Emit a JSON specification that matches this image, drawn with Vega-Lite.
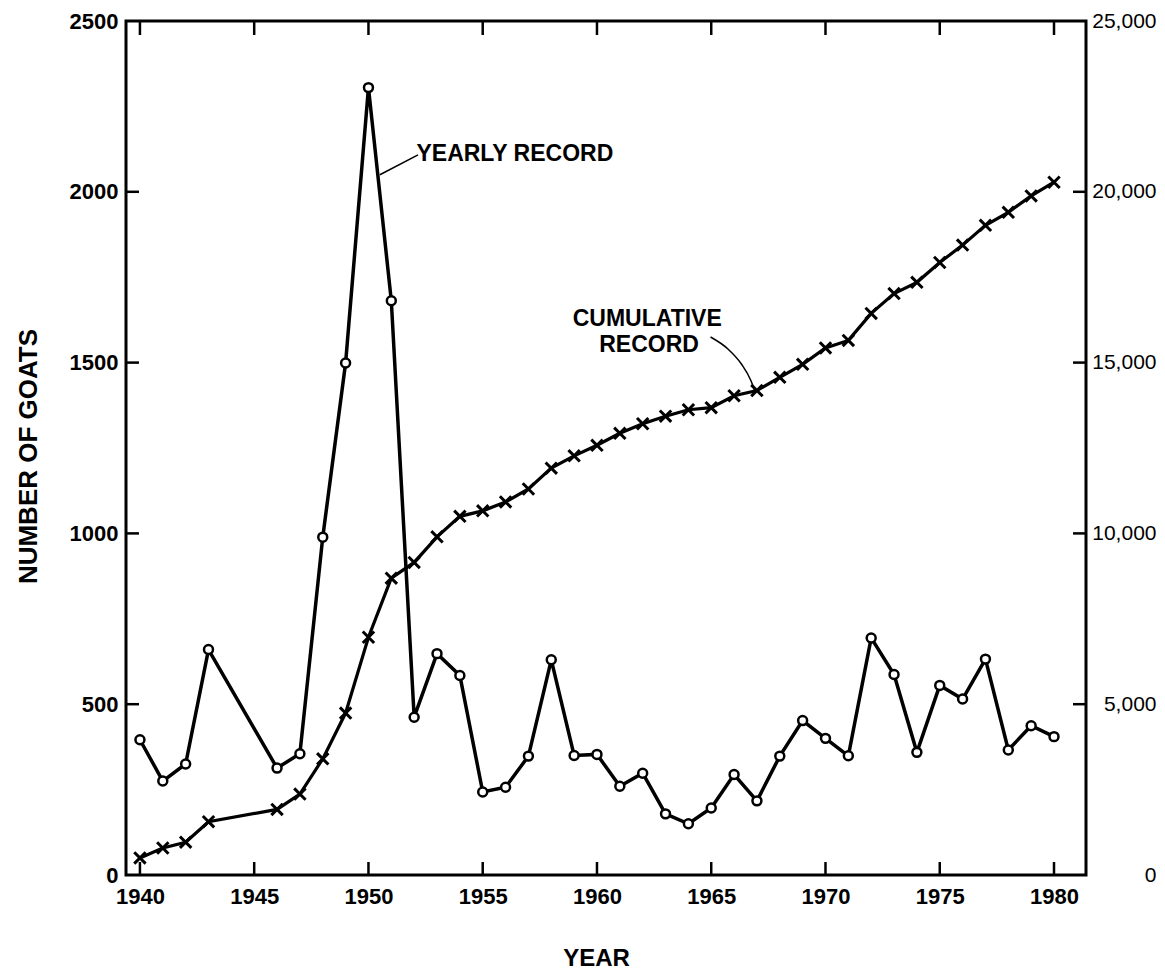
{
  "$schema": "https://vega.github.io/schema/vega-lite/v6.json",
  "autosize": "none",
  "width": 960,
  "height": 854,
  "padding": {"left": 126, "top": 21, "right": 79, "bottom": 100},
  "background": "white",
  "config": {
    "view": {"stroke": "black", "strokeWidth": 3},
    "axis": {"labelFont": "Liberation Sans", "titleFont": "Liberation Sans", "labelColor": "black", "titleColor": "black", "ticks": false, "domain": false, "grid": false}
  },
  "datasets": {
    "yearly": [
      {"year": 1940, "count": 396}, {"year": 1941, "count": 275}, {"year": 1942, "count": 325}, {"year": 1943, "count": 660},
      {"year": 1946, "count": 313}, {"year": 1947, "count": 355}, {"year": 1948, "count": 989}, {"year": 1949, "count": 1499},
      {"year": 1950, "count": 2305}, {"year": 1951, "count": 1681}, {"year": 1952, "count": 462}, {"year": 1953, "count": 648},
      {"year": 1954, "count": 584}, {"year": 1955, "count": 243}, {"year": 1956, "count": 257}, {"year": 1957, "count": 348},
      {"year": 1958, "count": 630}, {"year": 1959, "count": 350}, {"year": 1960, "count": 353}, {"year": 1961, "count": 260},
      {"year": 1962, "count": 298}, {"year": 1963, "count": 179}, {"year": 1964, "count": 150}, {"year": 1965, "count": 196},
      {"year": 1966, "count": 294}, {"year": 1967, "count": 217}, {"year": 1968, "count": 348}, {"year": 1969, "count": 452},
      {"year": 1970, "count": 400}, {"year": 1971, "count": 349}, {"year": 1972, "count": 694}, {"year": 1973, "count": 587},
      {"year": 1974, "count": 359}, {"year": 1975, "count": 555}, {"year": 1976, "count": 515}, {"year": 1977, "count": 632},
      {"year": 1978, "count": 366}, {"year": 1979, "count": 437}, {"year": 1980, "count": 405}
    ],
    "cumulative": [
      {"year": 1940, "cum": 500}, {"year": 1941, "cum": 790}, {"year": 1942, "cum": 960}, {"year": 1943, "cum": 1560},
      {"year": 1946, "cum": 1920}, {"year": 1947, "cum": 2370}, {"year": 1948, "cum": 3400}, {"year": 1949, "cum": 4740},
      {"year": 1950, "cum": 6960}, {"year": 1951, "cum": 8690}, {"year": 1952, "cum": 9150}, {"year": 1953, "cum": 9900},
      {"year": 1954, "cum": 10500}, {"year": 1955, "cum": 10660}, {"year": 1956, "cum": 10920}, {"year": 1957, "cum": 11300},
      {"year": 1958, "cum": 11910}, {"year": 1959, "cum": 12270}, {"year": 1960, "cum": 12580}, {"year": 1961, "cum": 12930},
      {"year": 1962, "cum": 13210}, {"year": 1963, "cum": 13430}, {"year": 1964, "cum": 13620}, {"year": 1965, "cum": 13680},
      {"year": 1966, "cum": 14030}, {"year": 1967, "cum": 14180}, {"year": 1968, "cum": 14570}, {"year": 1969, "cum": 14950},
      {"year": 1970, "cum": 15430}, {"year": 1971, "cum": 15650}, {"year": 1972, "cum": 16440}, {"year": 1973, "cum": 17020},
      {"year": 1974, "cum": 17350}, {"year": 1975, "cum": 17930}, {"year": 1976, "cum": 18440}, {"year": 1977, "cum": 19020},
      {"year": 1978, "cum": 19400}, {"year": 1979, "cum": 19880}, {"year": 1980, "cum": 20280}
    ],
    "frameMarks": [
      {"year": 1940, "year2": 1940, "count": 0, "count2": 38}, {"year": 1945, "year2": 1945, "count": 0, "count2": 38},
      {"year": 1950, "year2": 1950, "count": 0, "count2": 38}, {"year": 1955, "year2": 1955, "count": 0, "count2": 38},
      {"year": 1960, "year2": 1960, "count": 0, "count2": 38}, {"year": 1965, "year2": 1965, "count": 0, "count2": 38},
      {"year": 1970, "year2": 1970, "count": 0, "count2": 38}, {"year": 1975, "year2": 1975, "count": 0, "count2": 38},
      {"year": 1980, "year2": 1980, "count": 0, "count2": 38},
      {"year": 1940, "year2": 1940, "count": 2500, "count2": 2459}, {"year": 1945, "year2": 1945, "count": 2500, "count2": 2459},
      {"year": 1950, "year2": 1950, "count": 2500, "count2": 2459}, {"year": 1955, "year2": 1955, "count": 2500, "count2": 2459},
      {"year": 1960, "year2": 1960, "count": 2500, "count2": 2459}, {"year": 1965, "year2": 1965, "count": 2500, "count2": 2459},
      {"year": 1970, "year2": 1970, "count": 2500, "count2": 2459}, {"year": 1975, "year2": 1975, "count": 2500, "count2": 2459},
      {"year": 1980, "year2": 1980, "count": 2500, "count2": 2459},
      {"year": 1939.39, "year2": 1939.96, "count": 500, "count2": 500}, {"year": 1939.39, "year2": 1939.96, "count": 1000, "count2": 1000},
      {"year": 1939.39, "year2": 1939.96, "count": 1500, "count2": 1500}, {"year": 1939.39, "year2": 1939.96, "count": 2000, "count2": 2000},
      {"year": 1980.83, "year2": 1981.4, "count": 500, "count2": 500}, {"year": 1980.83, "year2": 1981.4, "count": 1000, "count2": 1000},
      {"year": 1980.83, "year2": 1981.4, "count": 1500, "count2": 1500}, {"year": 1980.83, "year2": 1981.4, "count": 2000, "count2": 2000}
    ],
    "leader": [
      {"year": 1950.5, "count": 2050, "year2": 1952.17, "count2": 2108}
    ],
    "curve": [
      {"year": 1964.97, "count": 1575}, {"year": 1965.73, "count": 1540}, {"year": 1966.32, "count": 1496},
      {"year": 1966.74, "count": 1447}, {"year": 1966.9, "count": 1418}
    ],
    "labelYearly": [{"year": 1952.1, "count": 2110, "label": "YEARLY RECORD"}],
    "labelCum": [
      {"year": 1962.2, "count": 1627, "label": "CUMULATIVE"},
      {"year": 1962.28, "count": 1551, "label": "RECORD"}
    ]
  },
  "layer": [
    {
      "layer": [
        {
          "data": {"name": "yearly"},
          "mark": {"type": "line", "color": "black", "strokeWidth": 3.5},
          "encoding": {
            "x": {"field": "year", "type": "quantitative", "scale": {"domain": [1939.39, 1981.4], "nice": false, "zero": false},
              "axis": {"orient": "bottom", "values": [1940, 1945, 1950, 1955, 1960, 1965, 1970, 1975, 1980], "format": "d", "labelPadding": 11, "labelFontSize": 22, "labelFontWeight": "bold", "title": "YEAR", "titleFontSize": 24, "titleFontWeight": "bold", "titlePadding": 39, "titleX": 470}},
            "y": {"field": "count", "type": "quantitative", "scale": {"domain": [0, 2500], "nice": false},
              "axis": {"orient": "left", "values": [0, 500, 1000, 1500, 2000, 2500], "format": "d", "labelPadding": 8, "labelFontSize": 22, "labelFontWeight": "bold", "title": "NUMBER OF GOATS", "titleFontSize": 26, "titleFontWeight": "bold", "titlePadding": 28, "titleY": 435}}
          }
        },
        {
          "data": {"name": "yearly"},
          "mark": {"type": "point", "shape": "circle", "filled": true, "fill": "white", "stroke": "black", "strokeWidth": 2.5, "size": 80, "opacity": 1},
          "encoding": {
            "x": {"field": "year", "type": "quantitative"},
            "y": {"field": "count", "type": "quantitative"}
          }
        },
        {
          "data": {"name": "leader"},
          "mark": {"type": "rule", "color": "black", "strokeWidth": 1.5},
          "encoding": {
            "x": {"field": "year", "type": "quantitative"},
            "y": {"field": "count", "type": "quantitative"},
            "x2": {"field": "year2"},
            "y2": {"field": "count2"}
          }
        },
        {
          "data": {"name": "frameMarks"},
          "mark": {"type": "rule", "color": "black", "strokeWidth": 2.5},
          "encoding": {
            "x": {"field": "year", "type": "quantitative"},
            "y": {"field": "count", "type": "quantitative"},
            "x2": {"field": "year2"},
            "y2": {"field": "count2"}
          }
        },
        {
          "data": {"name": "curve"},
          "mark": {"type": "line", "color": "black", "strokeWidth": 1.5, "interpolate": "monotone"},
          "encoding": {
            "x": {"field": "year", "type": "quantitative"},
            "y": {"field": "count", "type": "quantitative"}
          }
        },
        {
          "data": {"name": "labelYearly"},
          "mark": {"type": "text", "align": "left", "baseline": "middle", "font": "Liberation Sans", "fontWeight": "bold", "fontSize": 23, "color": "black"},
          "encoding": {
            "x": {"field": "year", "type": "quantitative"},
            "y": {"field": "count", "type": "quantitative"},
            "text": {"field": "label"}
          }
        },
        {
          "data": {"name": "labelCum"},
          "mark": {"type": "text", "align": "center", "baseline": "middle", "font": "Liberation Sans", "fontWeight": "bold", "fontSize": 23, "color": "black"},
          "encoding": {
            "x": {"field": "year", "type": "quantitative"},
            "y": {"field": "count", "type": "quantitative"},
            "text": {"field": "label"}
          }
        }
      ]
    },
    {
      "data": {"name": "cumulative"},
      "layer": [
        {
          "mark": {"type": "line", "color": "black", "strokeWidth": 3.2},
          "encoding": {
            "x": {"field": "year", "type": "quantitative", "axis": null},
            "y": {"field": "cum", "type": "quantitative", "scale": {"domain": [0, 25000], "nice": false},
              "axis": {"orient": "right", "values": [0, 5000, 10000, 15000, 20000, 25000], "format": ",d", "labelPadding": 70, "labelAlign": "right", "labelFontSize": 21, "title": null}}
          }
        },
        {
          "mark": {"type": "point", "shape": "M-1,-1L1,1M1,-1L-1,1", "filled": false, "stroke": "black", "strokeWidth": 3, "size": 130, "opacity": 1},
          "encoding": {
            "x": {"field": "year", "type": "quantitative"},
            "y": {"field": "cum", "type": "quantitative"}
          }
        }
      ]
    }
  ],
  "resolve": {"scale": {"y": "independent"}, "axis": {"x": "independent"}}
}
